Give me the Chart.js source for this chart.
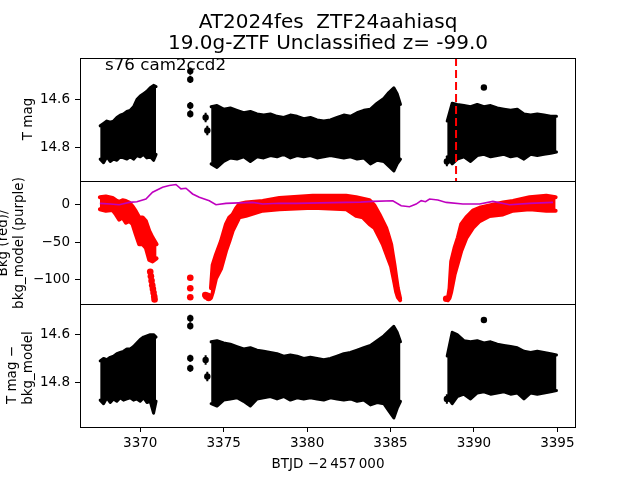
<!DOCTYPE html>
<html>
<head>
<meta charset="utf-8">
<script src="https://cdn.jsdelivr.net/npm/chart.js@4.4.1/dist/chart.umd.min.js"></script>
<style>
  body { margin: 0; background: #fff; }
  #wrap { position: relative; width: 640px; height: 480px; }
  canvas { position: absolute; left: 0; top: 0; }
</style>
</head>
<body>
<div id="wrap">
  <canvas id="c1" width="640" height="480"></canvas>
  <canvas id="c2" width="640" height="480"></canvas>
  <canvas id="c3" width="640" height="480"></canvas>
</div>
<script>
// ---- data ----
const xTicks = [3370, 3375, 3380, 3385, 3390, 3395];
const magTicks = [14.6, 14.8];
const bkgTicks = [0, -50, -100];
const eventTime = 3388.93;

// time grids of the three dense chunks
const seg1Time = [3367.6, 3367.8, 3368.0, 3368.2, 3368.4, 3368.6, 3368.8, 3369.0, 3369.2, 3369.4, 3369.6, 3369.8, 3370.0, 3370.2, 3370.4, 3370.6, 3370.8, 3370.95];
const seg3Time = [3374.25, 3374.6, 3375.0, 3375.4, 3375.8, 3376.2, 3376.6, 3377.0, 3377.4, 3377.8, 3378.2, 3378.6, 3379.0, 3379.4, 3379.8, 3380.2, 3380.6, 3381.0, 3381.4, 3381.8, 3382.2, 3382.6, 3383.0, 3383.4, 3383.8, 3384.2, 3384.6, 3384.9, 3385.2, 3385.4, 3385.6];
const seg4Time = [3388.4, 3388.7, 3389.0, 3389.4, 3389.8, 3390.2, 3390.6, 3391.0, 3391.4, 3391.8, 3392.2, 3392.6, 3393.0, 3393.4, 3393.8, 3394.2, 3394.6, 3394.95];

// T mag envelope (bright edge / faint edge)
const tmagBright1 = [14.71, 14.70, 14.69, 14.695, 14.69, 14.675, 14.665, 14.66, 14.65, 14.645, 14.63, 14.6, 14.585, 14.575, 14.565, 14.55, 14.54, 14.545];
const tmagFaint1 = [14.85, 14.865, 14.84, 14.86, 14.85, 14.855, 14.84, 14.845, 14.85, 14.84, 14.85, 14.835, 14.84, 14.83, 14.845, 14.84, 14.855, 14.83];
const tmagBright3 = [14.63, 14.625, 14.64, 14.635, 14.645, 14.655, 14.65, 14.66, 14.665, 14.66, 14.67, 14.675, 14.665, 14.67, 14.68, 14.675, 14.685, 14.69, 14.685, 14.675, 14.665, 14.67, 14.655, 14.645, 14.64, 14.615, 14.595, 14.57, 14.55, 14.575, 14.62];
const tmagFaint3 = [14.87, 14.885, 14.86, 14.845, 14.85, 14.84, 14.86, 14.84, 14.845, 14.835, 14.84, 14.83, 14.845, 14.835, 14.84, 14.835, 14.845, 14.84, 14.835, 14.84, 14.845, 14.84, 14.85, 14.845, 14.87, 14.855, 14.86, 14.88, 14.9, 14.87, 14.85];
const tmagBright4 = [14.69, 14.615, 14.62, 14.625, 14.63, 14.62, 14.63, 14.625, 14.635, 14.64, 14.645, 14.64, 14.66, 14.665, 14.66, 14.665, 14.67, 14.67];
const tmagFaint4 = [14.84, 14.87, 14.85, 14.84, 14.86, 14.835, 14.83, 14.84, 14.835, 14.83, 14.84, 14.835, 14.85, 14.83, 14.835, 14.83, 14.825, 14.82];

// T mag - bkg_model envelope
const corrBright1 = [14.71, 14.70, 14.705, 14.695, 14.69, 14.68, 14.675, 14.67, 14.66, 14.66, 14.65, 14.635, 14.62, 14.61, 14.605, 14.6, 14.6, 14.61];
const corrFaint1 = [14.875, 14.89, 14.865, 14.885, 14.87, 14.88, 14.865, 14.875, 14.87, 14.865, 14.875, 14.87, 14.88, 14.865, 14.885, 14.88, 14.93, 14.88];
const corrBright3 = [14.63, 14.625, 14.635, 14.64, 14.65, 14.66, 14.655, 14.665, 14.67, 14.675, 14.68, 14.69, 14.685, 14.69, 14.7, 14.695, 14.7, 14.705, 14.7, 14.69, 14.68, 14.675, 14.665, 14.655, 14.645, 14.625, 14.605, 14.585, 14.565, 14.59, 14.63];
const corrFaint3 = [14.89, 14.9, 14.875, 14.87, 14.865, 14.88, 14.9, 14.87, 14.865, 14.86, 14.87, 14.86, 14.875, 14.865, 14.87, 14.865, 14.87, 14.875, 14.865, 14.87, 14.875, 14.87, 14.88, 14.875, 14.895, 14.885, 14.89, 14.92, 14.95, 14.91, 14.88];
const corrBright4 = [14.69, 14.59, 14.6, 14.625, 14.63, 14.625, 14.635, 14.63, 14.64, 14.645, 14.65, 14.655, 14.67, 14.675, 14.67, 14.675, 14.68, 14.685];
const corrFaint4 = [14.86, 14.89, 14.86, 14.85, 14.87, 14.845, 14.84, 14.85, 14.845, 14.84, 14.85, 14.845, 14.87, 14.845, 14.85, 14.845, 14.84, 14.835];

// isolated points with error bars
const lonerTime = [3373.0, 3373.0, 3373.0, 3373.0, 3373.92, 3374.02, 3388.38, 3390.6];
const lonerTmag = [14.48, 14.515, 14.625, 14.66, 14.675, 14.73, 14.86, 14.549];
const lonerCorr = [14.531, 14.563, 14.699, 14.741, 14.706, 14.776, 14.87, 14.538];
const lonerErr = [0.015, 0.015, 0.015, 0.015, 0.02, 0.02, 0.02, 0.004];

// background (red) envelopes
const bkgTime1 = [3367.58, 3367.94, 3368.34, 3368.54, 3368.74, 3368.94, 3369.14, 3369.34, 3369.54, 3369.74, 3369.94, 3370.14, 3370.34, 3370.54, 3370.74, 3370.98];
const bkgHigh1 = [10, 11, 9, 6, 4, 6, 5, 3, -2, -9, -17, -17, -22, -35, -44, -53];
const bkgLow1 = [-6, -8, -7, -13, -20, -17, -24, -22, -26, -40, -53, -53, -58, -74, -76, -72];
const bkgTime3 = [3374.24, 3374.34, 3374.54, 3374.84, 3375.14, 3375.34, 3375.54, 3375.74, 3375.94, 3376.34, 3377.34, 3378.34, 3380.34, 3382.34, 3382.94, 3383.34, 3383.74, 3384.04, 3384.34, 3384.54, 3384.74, 3384.84, 3385.04, 3385.14, 3385.24, 3385.34, 3385.44, 3385.58];
const bkgHigh3 = [-112, -81, -67, -49, -26, -17, -13, -5, 1, 3, 5, 9, 12, 12, 10, 8, 6, -1, -13, -22, -31, -38, -53, -67, -81, -97, -112, -126];
const bkgLow3 = [-125, -118, -99, -86, -62, -49, -35, -26, -17, -15, -8, -6, -4, -6, -15, -17, -26, -31, -44, -53, -65, -71, -83, -94, -105, -117, -124, -128];
const bkgTime4 = [3388.44, 3388.54, 3388.64, 3388.84, 3389.04, 3389.24, 3389.54, 3389.94, 3390.34, 3390.94, 3391.34, 3391.74, 3392.34, 3393.34, 3394.34, 3394.9];
const bkgHigh4 = [-126, -112, -76, -58, -44, -26, -17, -8, -4, -1, 1, 3, 5, 10, 12, 10];
const bkgLow4 = [-128, -125, -117, -94, -78, -62, -45, -31, -22, -15, -14, -13, -8, -6, -8, -8];
const bkgDotTime = [3370.6, 3370.64, 3370.68, 3370.72, 3370.76, 3370.8, 3370.84, 3370.86, 3373.0, 3373.0, 3373.0, 3373.9, 3373.96, 3374.04, 3374.1, 3388.34];
const bkgDotValue = [-90, -96, -102, -108, -113, -118, -123, -127, -98, -112, -124, -121, -123, -122, -125, -126];

// bkg_model (purple)
const modelTime = [3367.58, 3368.2, 3368.74, 3369.34, 3369.8, 3370.34, 3370.74, 3371.34, 3371.74, 3372.14, 3372.44, 3372.74, 3373.14, 3373.54, 3374.14, 3374.54, 3375.14, 3375.9, 3376.74, 3377.34, 3378.3, 3379.34, 3380.8, 3382.34, 3383.2, 3383.94, 3385.14, 3385.64, 3386.14, 3386.54, 3386.84, 3387.1, 3387.34, 3387.84, 3388.34, 3389.34, 3390.34, 3391.14, 3392.14, 3393.34, 3394.74];
const modelValue = [1.8, 1, 0, 3.1, 4, 7.6, 16.7, 23.5, 25.7, 27.1, 21.2, 22.1, 14.4, 9.9, 5.4, 0, 1.8, 2.5, 3.1, 0.9, 2, 1.8, 2.5, 3.1, 3.5, 4.5, 5.4, -1.4, -2.7, 0.9, 5.4, 4, 7.6, 6.3, 3.1, 0.9, 0.9, 4.5, 0, 1.8, 3.1];

// ---- layout (pixels) ----
const X_MIN = 3366.39, X_MAX = 3396.12;
const MAG1 = [14.425, 14.942];
const BKG = [-133.1, 31.8];
const MAG3 = [14.471, 14.988];
const FONT = 'DejaVu Sans';

Chart.defaults.font.family = FONT;
Chart.defaults.font.size = 13.5;
Chart.defaults.color = '#000';

function pts(t, v) {
    return t.map((x, i) => ({ x: x, y: v[i] }));
}

function band(t, hi, lo, color, w) {
    let common = { borderColor: color, backgroundColor: color, borderWidth: w, pointRadius: 0, tension: 0, borderJoinStyle: 'round', borderCapStyle: 'round' };
    return [
        Object.assign({ data: pts(t, hi), fill: '+1' }, common),
        Object.assign({ data: pts(t, lo), fill: false }, common)
    ];
}

function errBars(t, v, e) {
    let d = [];
    t.forEach((x, i) => {
        d.push({ x: x, y: v[i] - e[i] }, { x: x, y: v[i] + e[i] }, { x: x, y: null });
    });
    return d;
}

function dots(t, v, color, r) {
    return { data: pts(t, v), showLine: false, pointRadius: r, pointBorderWidth: 0, pointBackgroundColor: color, borderColor: color };
}

// frame box + free text
const decor = {
    id: 'decor',
    afterDraw( chart, args, opts )
    {
        const ctx = chart.ctx;
        const a = chart.chartArea;
        ctx.save();
        ctx.strokeStyle = '#000';
        ctx.lineWidth = 1;
        ctx.strokeRect( Math.round( a.left ) + 0.5, Math.round( a.top ) + 0.5, Math.round( a.width ) - 1, Math.round( a.height ) );
        ctx.fillStyle = '#000';
        ( opts.texts || [] ).forEach( t =>
        {
            ctx.save();
            ctx.translate( t.x, t.y );
            if ( t.rot ) ctx.rotate( t.rot );
            ctx.font = t.size + 'px "' + FONT + '"';
            ctx.textAlign = t.align || 'center';
            ctx.textBaseline = 'alphabetic';
            ctx.fillText( t.text, 0, 0 );
            ctx.restore();
        } );
        ctx.restore();
    }
};

function yAxis(range, ticks, reverse, fmt) {
    return {
        type: 'linear', min: range[0], max: range[1], reverse: reverse,
        afterBuildTicks: s => { s.ticks = ticks.map(v => ({ value: v })); },
        afterFit: s => { s.width = 80; },
        ticks: { padding: 5, callback: fmt },
        grid: { drawOnChartArea: false, color: '#000', tickLength: 5 },
        border: { display: false }
    };
}

function xAxis(show) {
    return {
        type: 'linear', min: X_MIN, max: X_MAX, display: show,
        afterBuildTicks: s => { s.ticks = xTicks.map(v => ({ value: v })); },
        afterFit: s => { s.height = show ? 30 : 0; },
        ticks: { padding: 3, callback: v => String(v) },
        grid: { drawOnChartArea: false, color: '#000', tickLength: 5 },
        border: { display: false }
    };
}

const magFmt = v => v.toFixed(1);
const bkgFmt = v => String(v).replace('-', '\u2212');
const ROT = -Math.PI / 2;

function makeChart(id, datasets, pad, yScale, showX, texts) {
    return new Chart(document.getElementById(id), {
        type: 'line',
        data: { datasets: datasets },
        options: {
            responsive: false,
            animation: false,
            layout: { padding: pad },
            plugins: { legend: { display: false }, tooltip: { enabled: false }, decor: { texts: texts } },
            scales: { x: xAxis(showX), y: yScale }
        },
        plugins: [decor]
    });
}

// panel 1: T mag
makeChart('c1', [
    { data: [{ x: eventTime, y: MAG1[0] }, { x: eventTime, y: MAG1[1] }], borderColor: '#ff0000', borderWidth: 2, borderDash: [8, 4], pointRadius: 0 },
    dots(lonerTime, lonerTmag, '#000', 3.2),
    { data: errBars(lonerTime, lonerTmag, lonerErr), borderColor: '#000', borderWidth: 2, pointRadius: 0, spanGaps: false },
    ...band(seg1Time, tmagBright1, tmagFaint1, '#000', 3),
    ...band(seg3Time, tmagBright3, tmagFaint3, '#000', 3),
    ...band(seg4Time, tmagBright4, tmagFaint4, '#000', 3)
], { top: 58, left: 0, right: 64, bottom: 299 }, yAxis(MAG1, magTicks, true, magFmt), false, [
    { text: 'AT2024fes  ZTF24aahiasq', x: 328, y: 28.3, size: 20 },
    { text: '19.0g-ZTF Unclassified z= -99.0', x: 328, y: 49.3, size: 20 },
    { text: 's76 cam2ccd2', x: 105, y: 70, size: 16.7, align: 'left' },
    { text: 'T mag', x: 32, y: 119, size: 13.5, rot: ROT }
]);

// panel 2: background
makeChart('c2', [
    { data: pts(modelTime, modelValue), borderColor: '#bf00bf', borderWidth: 1.6, pointRadius: 0, tension: 0 },
    dots(bkgDotTime, bkgDotValue, '#ff0000', 3.3),
    ...band(bkgTime1, bkgHigh1, bkgLow1, '#ff0000', 4),
    ...band(bkgTime3, bkgHigh3, bkgLow3, '#ff0000', 4),
    ...band(bkgTime4, bkgHigh4, bkgLow4, '#ff0000', 4)
], { top: 181, left: 0, right: 64, bottom: 176 }, yAxis(BKG, bkgTicks, false, bkgFmt), false, [
    { text: 'Bkg (red)/', x: 6.5, y: 243, size: 13.5, rot: ROT },
    { text: 'bkg_model (purple)', x: 23, y: 243, size: 13.5, rot: ROT }
]);

// panel 3: T mag - bkg_model
makeChart('c3', [
    dots(lonerTime, lonerCorr, '#000', 3.2),
    { data: errBars(lonerTime, lonerCorr, lonerErr), borderColor: '#000', borderWidth: 2, pointRadius: 0, spanGaps: false },
    ...band(seg1Time, corrBright1, corrFaint1, '#000', 3),
    ...band(seg3Time, corrBright3, corrFaint3, '#000', 3),
    ...band(seg4Time, corrBright4, corrFaint4, '#000', 3)
], { top: 304, left: 0, right: 64, bottom: 23 }, yAxis(MAG3, magTicks, true, magFmt), true, [
    { text: 'T mag \u2212', x: 15.5, y: 375, size: 13.5, rot: ROT },
    { text: 'bkg_model', x: 32, y: 368, size: 13.5, rot: ROT },
    { text: 'BTJD \u22122\u2009457\u2009000', x: 328, y: 468, size: 13.5 }
]);
</script>
</body>
</html>
